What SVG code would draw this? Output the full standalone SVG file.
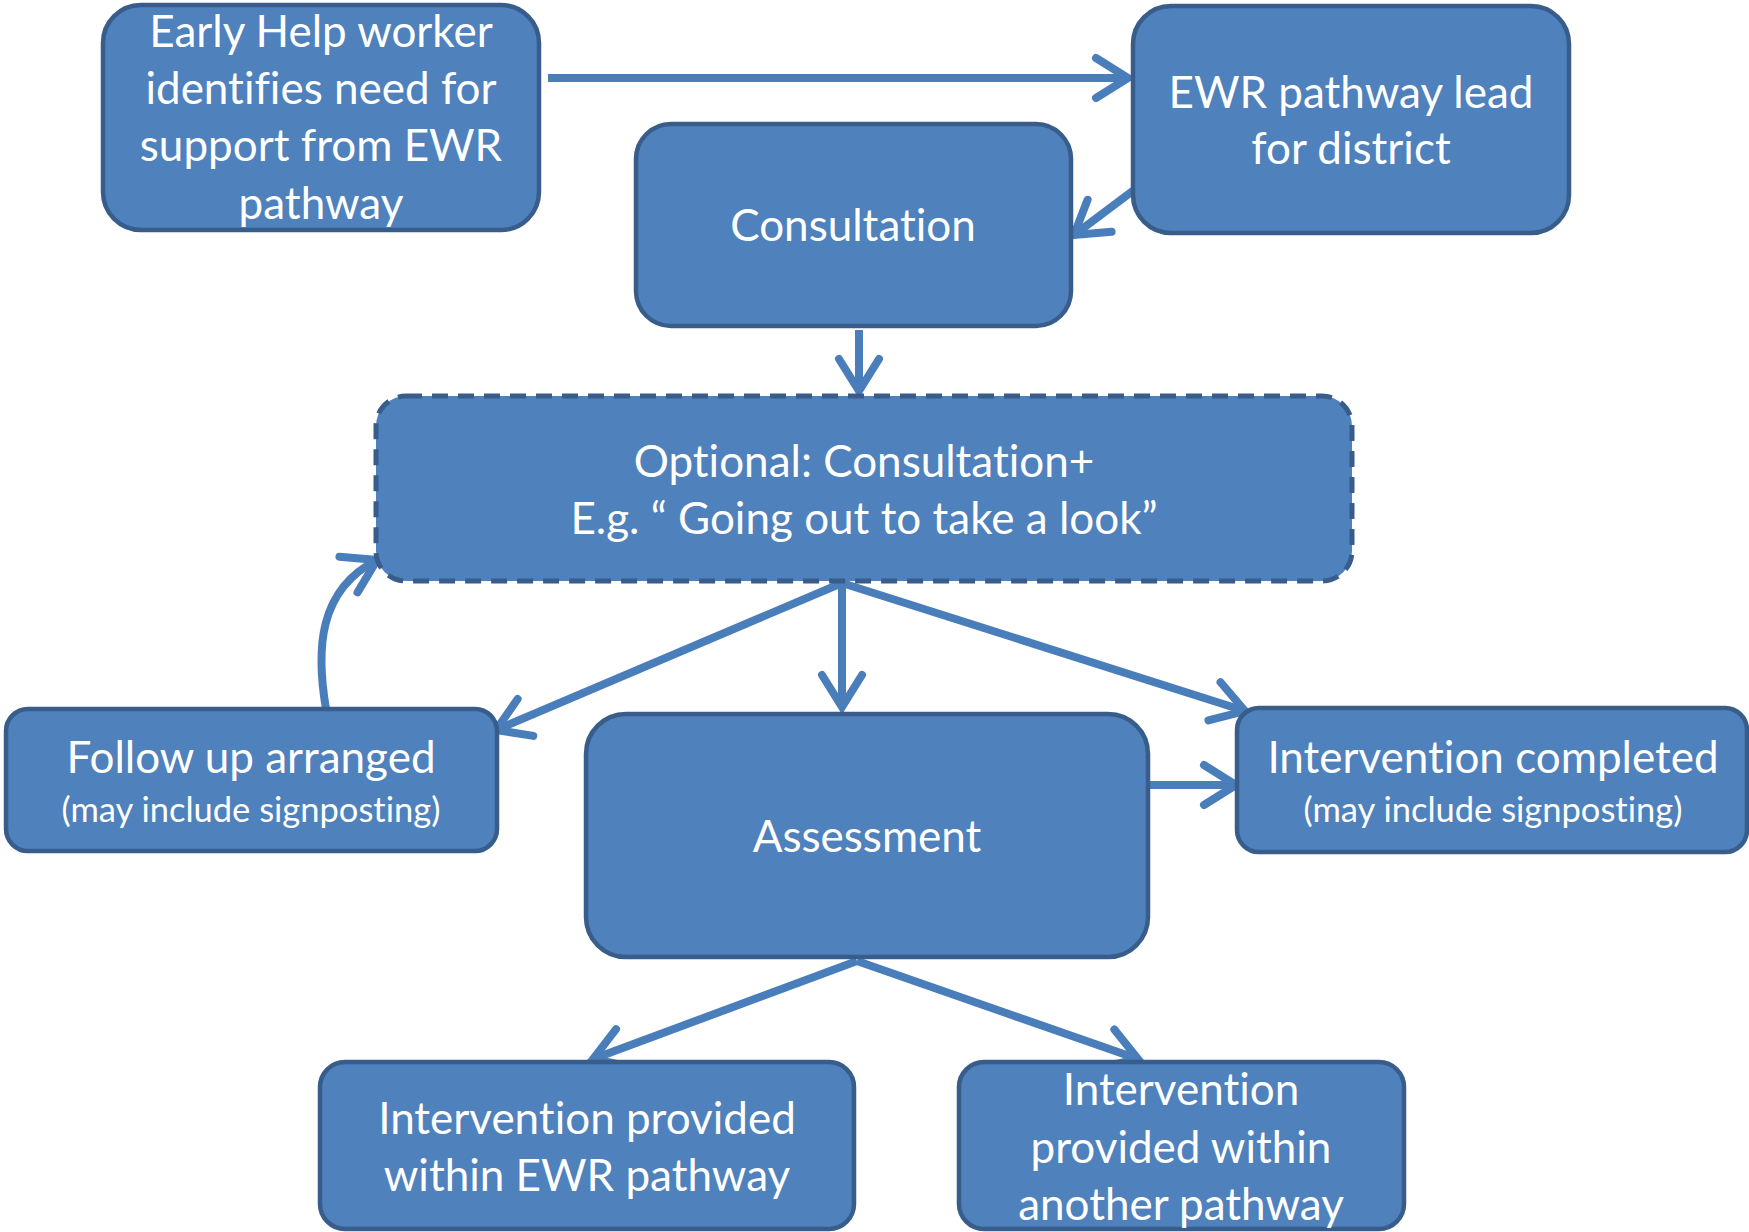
<svg xmlns="http://www.w3.org/2000/svg" width="1749" height="1232" viewBox="0 0 1749 1232">
<defs>
<style>
.box{fill:#4F81BD;stroke:#385D8A;stroke-width:4.5}
.dash{stroke-width:5;stroke-dasharray:16 10}
.t{font-family:Lato,"Open Sans","Liberation Sans",sans-serif;fill:#fff;text-anchor:middle;font-size:44px;font-variant-ligatures:none;font-feature-settings:"liga" 0,"dlig" 0}
.s{font-size:34.5px}
.c{fill:none;stroke:#4A7EBB;stroke-width:8}
</style>
<marker id="arr" markerUnits="userSpaceOnUse" markerWidth="60" markerHeight="60" viewBox="-45 -30 60 60" refX="0" refY="0" orient="auto">
<path d="M-32,-20 L0,0 L-32,20" fill="none" stroke="#4A7EBB" stroke-width="8" stroke-linecap="round" stroke-linejoin="miter"/>
</marker>
</defs>
<rect width="1749" height="1232" fill="#fff"/>
<g id="connectors">
<line class="c" x1="548" y1="78" x2="1128" y2="78" marker-end="url(#arr)"/>
<line class="c" x1="1134" y1="190" x2="1074" y2="235" marker-end="url(#arr)"/>
<line class="c" x1="859" y1="330" x2="859" y2="391" marker-end="url(#arr)"/>
<line class="c" x1="842" y1="583" x2="496" y2="730" marker-end="url(#arr)"/>
<line class="c" x1="842" y1="583" x2="842" y2="707" marker-end="url(#arr)"/>
<line class="c" x1="842" y1="583" x2="1245" y2="711" marker-end="url(#arr)"/>
<line class="c" x1="1149" y1="785" x2="1236" y2="785" marker-end="url(#arr)"/>
<path class="c" d="M326,709 C316,650 318,590 377,560" marker-end="url(#arr)"/>
<line class="c" x1="857" y1="961" x2="593" y2="1059" marker-end="url(#arr)"/>
<line class="c" x1="857" y1="961" x2="1138" y2="1059" marker-end="url(#arr)"/>
</g>
<g id="n1">
<rect class="box" x="103" y="5" width="436" height="225" rx="38"/>
<text class="t" x="321" y="47">Early Help worker</text>
<text class="t" x="321" y="104">identifies need for</text>
<text class="t" x="321" y="161">support from EWR</text>
<text class="t" x="321" y="219">pathway</text>
</g>
<g id="n2">
<rect class="box" x="1133" y="6" width="436" height="227" rx="38"/>
<text class="t" x="1351" y="108">EWR pathway lead</text>
<text class="t" x="1351" y="164">for district</text>
</g>
<g id="n3">
<rect class="box" x="636" y="124" width="435" height="202" rx="35"/>
<text class="t" x="853" y="241">Consultation</text>
</g>
<g id="n4">
<rect class="box dash" x="376" y="396" width="976" height="185" rx="30"/>
<text class="t" x="864" y="477">Optional: Consultation+</text>
<text class="t" x="864" y="534">E.g. “ Going out to take a look”</text>
</g>
<g id="n5">
<rect class="box" x="6" y="709" width="491" height="142" rx="22"/>
<text class="t" x="251" y="773">Follow up arranged</text>
<text class="t s" x="251" y="822">(may include signposting)</text>
</g>
<g id="n6">
<rect class="box" x="586" y="714" width="562" height="243" rx="40"/>
<text class="t" x="867" y="852">Assessment</text>
</g>
<g id="n7">
<rect class="box" x="1237" y="708" width="510" height="144" rx="22"/>
<text class="t" x="1493" y="773">Intervention completed</text>
<text class="t s" x="1493" y="822">(may include signposting)</text>
</g>
<g id="n8">
<rect class="box" x="320" y="1062" width="534" height="167" rx="25"/>
<text class="t" x="587" y="1134">Intervention provided</text>
<text class="t" x="587" y="1191">within EWR pathway</text>
</g>
<g id="n9">
<rect class="box" x="959" y="1062" width="445" height="167" rx="25"/>
<text class="t" x="1181" y="1105">Intervention</text>
<text class="t" x="1181" y="1163">provided within</text>
<text class="t" x="1181" y="1220">another pathway</text>
</g>
</svg>
